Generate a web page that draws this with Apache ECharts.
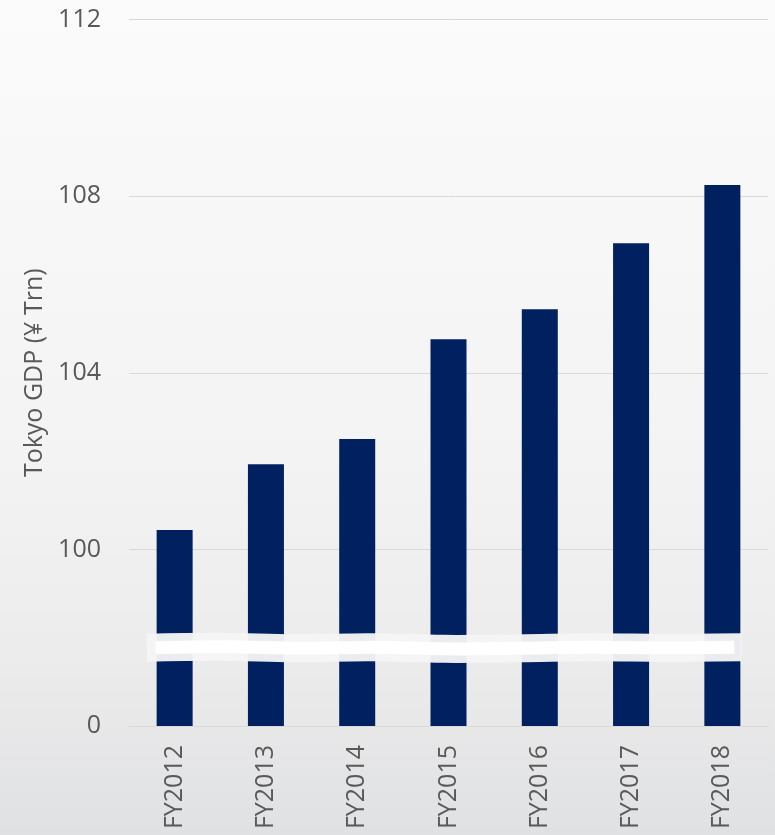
<!DOCTYPE html>
<html>
<head>
<meta charset="utf-8">
<script src="https://cdn.jsdelivr.net/npm/echarts@6/dist/echarts.min.js"></script>
<style>
html,body{margin:0;padding:0;}
#chart{width:775px;height:835px;}
</style>
</head>
<body>
<div id="chart"></div>
<script>
const categories = ['FY2012','FY2013','FY2014','FY2015','FY2016','FY2017','FY2018'];
const gdpValues = [100.44, 101.93, 102.5, 104.76, 105.44, 106.93, 108.25];
const axisBreakBase = 96;   // drawn as "0"
const breakValue = 97.77;   // where the axis break mark sits
const axisTitle = 'Tokyo GDP (¥ Trn)';

const chart = echarts.init(document.getElementById('chart'));
const font = '"Open Sans", "Liberation Sans", sans-serif';
const option = {
  animation: false,
  backgroundColor: {
    type: 'linear', x: 0, y: 0, x2: 0, y2: 1,
    colorStops: [
      {offset: 0, color: '#fbfbfb'},
      {offset: 0.55, color: '#f3f3f3'},
      {offset: 0.78, color: '#ececec'},
      {offset: 1, color: '#e0e1e3'}
    ]
  },
  grid: {left: 129, right: 7, top: 19.5, bottom: 109, containLabel: false},
  xAxis: {
    type: 'category',
    data: categories,
    axisLine: {show: true, lineStyle: {color: '#d9d9d9', width: 1}},
    axisTick: {show: false},
    axisLabel: {rotate: 90, margin: 19, fontSize: 25, color: '#595959', fontFamily: font}
  },
  yAxis: {
    type: 'value',
    min: axisBreakBase, max: 112, interval: 4,
    name: axisTitle,
    nameLocation: 'middle',
    nameGap: 82,
    nameTextStyle: {fontSize: 25, color: '#595959', fontFamily: font},
    axisLine: {show: false},
    axisTick: {show: false},
    splitLine: {lineStyle: {color: '#d9d9d9', width: 1}},
    axisLabel: {
      margin: 28, fontSize: 25, color: '#595959', fontFamily: font,
      formatter: v => (v === axisBreakBase ? '0' : String(v))
    }
  },
  series: [{
    type: 'bar',
    data: gdpValues,
    barWidth: 36,
    itemStyle: {color: '#002060'}
  }]
};
chart.setOption(option);

// axis break mark, positioned through the chart's own scales
const yB = chart.convertToPixel({yAxisIndex: 0}, breakValue);
const x0 = chart.convertToPixel({xAxisIndex: 0}, 0);
const x6 = chart.convertToPixel({xAxisIndex: 0}, categories.length - 1);
function band(xL, xR) {
  const wob = [0, -1, 0.5, -0.5, 1, 0.5, -0.5, 0, -0.5];
  const n = wob.length - 1;
  const pts = [];
  for (let i = 0; i <= n; i++) pts.push([xL + (xR - xL) * i / n, yB + wob[i]]);
  return pts;
}
chart.setOption({
  graphic: [
    {type: 'polyline', z: 100, shape: {points: band(x0 - 28, x6 + 19), smooth: 0.4},
     style: {stroke: 'rgba(245,245,245,0.96)', lineWidth: 28, lineCap: 'butt', lineJoin: 'round', fill: null}},
    {type: 'polyline', z: 101, shape: {points: band(x0 - 19, x6 + 12), smooth: 0.4},
     style: {stroke: '#ffffff', lineWidth: 13, lineCap: 'butt', fill: null}}
  ]
});
</script>
</body>
</html>
